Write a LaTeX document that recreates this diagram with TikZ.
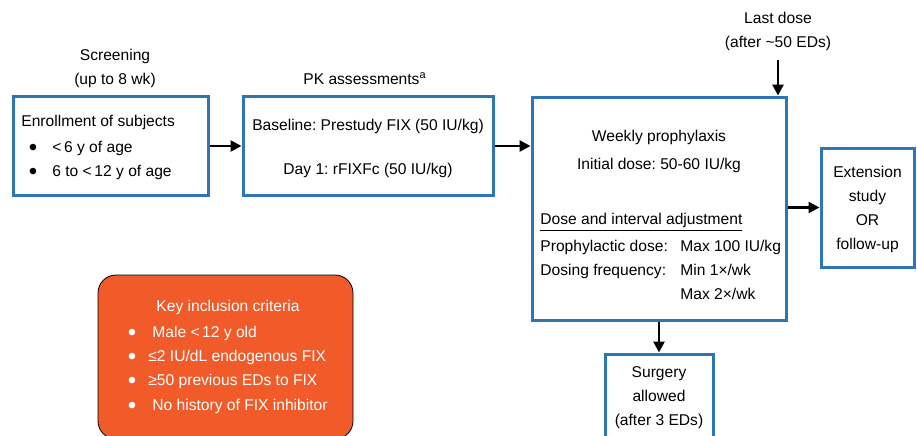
\documentclass[tikz,border=0pt]{standalone}
\usepackage{fontspec}
\setmainfont{Liberation Sans}
\usetikzlibrary{arrows.meta}
\definecolor{boxblue}{RGB}{46,117,182}
\definecolor{keyorange}{RGB}{241,90,41}
\frenchspacing

\begin{document}
\begin{tikzpicture}[x=0.5pt, y=-0.5pt, font=\fontsize{7.8pt}{12pt}\selectfont]
\tikzstyle{basic}=[draw=boxblue, line width=1.5pt, fill=white, inner sep=0pt]
\tikzstyle{keybox}=[draw=black, line width=0.4pt, fill=keyorange, rounded corners=9pt, inner sep=0pt]
\tikzstyle{txt}=[inner sep=0pt, anchor=mid]
\tikzstyle{ltxt}=[inner sep=0pt, anchor=mid west]
\tikzstyle{bul}=[inner sep=0pt, anchor=mid, font=\large, yshift=-1.5pt]
\tikzstyle{edgestyle}=[line width=1.3pt, -{Triangle[length=5.5pt,width=5.5pt]}]
\useasboundingbox (0,0) rectangle (917,435);

% boxes
\node[basic, minimum width=97.5pt, minimum height=49.5pt] (enr) at (110.5,146) {};
\node[basic, minimum width=125pt, minimum height=49.5pt] (pk) at (368,146) {};
\node[basic, minimum width=127pt, minimum height=111.5pt] (wk) at (659,208.5) {};
\node[basic, minimum width=46.5pt, minimum height=59.5pt] (ext) at (867.5,207.5) {};
\node[basic, minimum width=54pt, minimum height=45.5pt] (surg) at (659,399.5) {};
\node[keybox, minimum width=127.5pt, minimum height=82pt] (key) at (225.5,357) {};

% headings
\node[txt] (scr1) at (115,55) {Screening};
\node[txt] (scr2) at (115,79) {(up to 8 wk)};
\node[txt] (pkh) at (365,79) {PK assessments\textsuperscript{a}};
\node[txt] (ld1) at (778,18) {Last dose};
\node[txt] (ld2) at (778,42) {(after \textasciitilde 50 EDs)};
\coordinate (ldtip) at (778,60);

% enrollment
\node[ltxt] (enr0) at (21,121) {Enrollment of subjects};
\node[bul] (enrb1) at (33,147) {\textbullet};
\node[ltxt] (enr1) at (52,147) {<\,6 y of age};
\node[bul] (enrb2) at (33,171) {\textbullet};
\node[ltxt] (enr2) at (52,171) {6 to <\,12 y of age};

% pk
\node[txt] (pk1) at (368,125) {Baseline: Prestudy FIX (50 IU/kg)};
\node[txt] (pk2) at (368,169) {Day 1: rFIXFc (50 IU/kg)};

% weekly prophylaxis
\node[txt] (wk1) at (659,136) {Weekly prophylaxis};
\node[txt] (wk2) at (659,164) {Initial dose: 50-60 IU/kg};
\node[ltxt] (wk3) at (540,219) {\underline{Dose and interval adjustment}};
\node[ltxt] (wk4) at (540,246) {Prophylactic dose:};
\node[ltxt] (wk4v) at (680,246) {Max 100 IU/kg};
\node[ltxt] (wk5) at (540,270) {Dosing frequency:};
\node[ltxt] (wk5v) at (680,270) {Min 1×/wk};
\node[ltxt] (wk6v) at (680,294) {Max 2×/wk};

% extension
\node[txt] (ext1) at (867.5,172) {Extension};
\node[txt] (ext2) at (867.5,196) {study};
\node[txt] (ext3) at (867.5,220) {OR};
\node[txt] (ext4) at (867.5,244) {follow-up};

% surgery
\node[txt] (surg1) at (659,372) {Surgery};
\node[txt] (surg2) at (659,396) {allowed};
\node[txt] (surg3) at (659,420) {(after 3 EDs)};

% key inclusion criteria
\begin{scope}[every node/.append style={text=white}]
\node[txt] (key0) at (228,306) {Key inclusion criteria};
\node[bul] (keyb1) at (132,332) {\textbullet};
\node[ltxt] (key1) at (152,332) {Male <\,12 y old};
\node[bul] (keyb2) at (132,356) {\textbullet};
\node[ltxt] (key2) at (148,356) {≤2 IU/dL endogenous FIX};
\node[bul] (keyb3) at (132,380) {\textbullet};
\node[ltxt] (key3) at (148,380) {≥50 previous EDs to FIX};
\node[bul] (keyb4) at (132,405) {\textbullet};
\node[ltxt] (key4) at (152,405) {No history of FIX inhibitor};
\end{scope}

% arrows
\draw (enr.east) edge[edgestyle] (pk.west);
\draw (pk.east) edge[edgestyle] (pk.east -| wk.west);
\draw (ext.west -| wk.east) edge[edgestyle] (ext.west);
\draw (ldtip) edge[edgestyle] (ldtip |- wk.north);
\draw (wk.south) edge[edgestyle] (surg.north);
\end{tikzpicture}
\end{document}
